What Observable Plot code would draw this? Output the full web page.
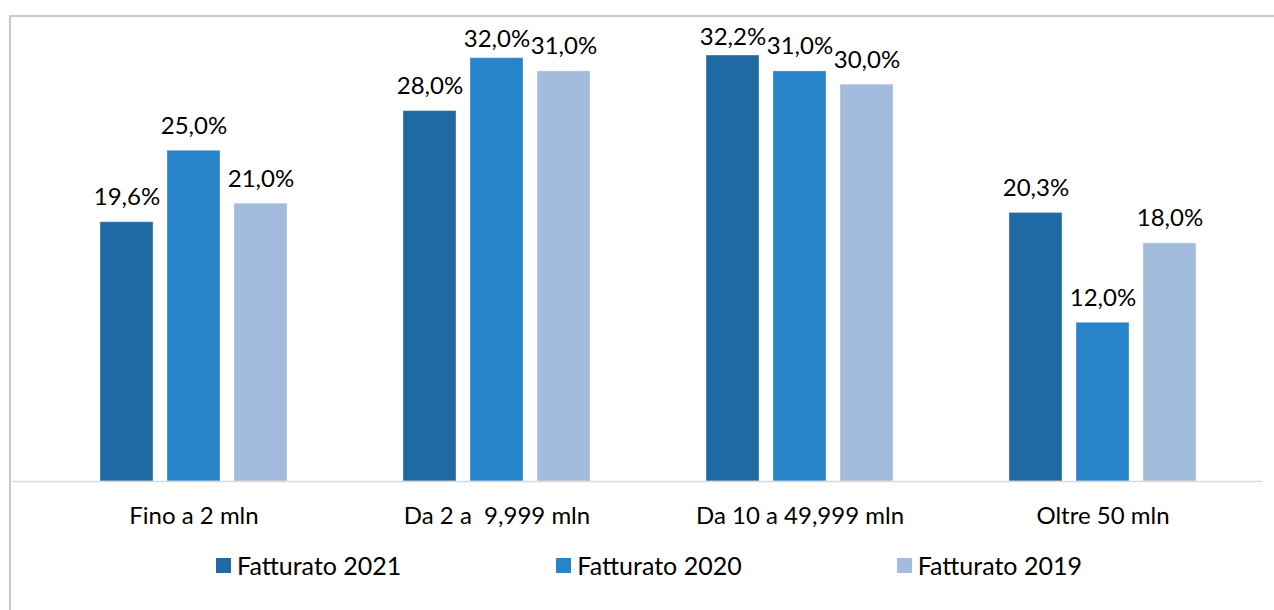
<!DOCTYPE html>
<html>
<head>
<meta charset="utf-8">
<script src="https://cdn.jsdelivr.net/npm/d3@7"></script>
<script src="https://cdn.jsdelivr.net/npm/@observablehq/plot@0.6"></script>
<style>
  html, body { margin: 0; padding: 0; background: #fff; }
  body { width: 1274px; height: 610px; position: relative; overflow: hidden; font-family: Lato, "Open Sans", sans-serif; }
  #frame { position: absolute; left: 9px; top: 15px; width: 1300px; height: 700px; border-left: 2px solid #c9c9c9; border-top: 2px solid #c9c9c9; box-sizing: border-box; }
  #chart { position: absolute; left: 0; top: 0; }
  #legend { position: absolute; left: 24px; top: 550px; width: 1250px; display: flex; justify-content: center; gap: 155px; font-size: 25px; color: #000; }
  .item { display: flex; align-items: center; }
  .sw { width: 15px; height: 15px; margin-right: 6px; }
</style>
</head>
<body>
<div id="frame"></div>
<div id="chart"></div>
<div id="legend"></div>
<script>
const categories = ["Fino a 2 mln", "Da 2 a  9,999 mln", "Da 10 a 49,999 mln", "Oltre 50 mln"];
const seriesNames = ["Fatturato 2021", "Fatturato 2020", "Fatturato 2019"];
const values2021 = [19.6, 28.0, 32.2, 20.3];
const values2020 = [25.0, 32.0, 31.0, 12.0];
const values2019 = [21.0, 31.0, 30.0, 18.0];
const colors = ["#1f6aa5", "#2884c8", "#a3bbdc"];
const offsets = [-67, 0, 67];

const seriesValues = [values2021, values2020, values2019];
const fmt = v => v.toFixed(1).replace(".", ",") + "%";

const marks = [];
seriesValues.forEach((vals, i) => {
  const data = categories.map((c, j) => ({category: c, value: vals[j]}));
  marks.push(Plot.barY(data, {
    x: "category", y: "value", fill: colors[i], dx: offsets[i],
    insetLeft: 125, insetRight: 125, stroke: "#ffffff", strokeOpacity: 0.35, strokeWidth: 1
  }));
  // labels near the top of the plot area are pushed closer to their bars
  marks.push(Plot.text(data.filter(d => d.value < 31.5), {
    x: "category", y: "value", text: d => fmt(d.value), dx: offsets[i], dy: -17,
    lineAnchor: "bottom", fontSize: 24, fill: "#000"
  }));
  marks.push(Plot.text(data.filter(d => d.value >= 31.5), {
    x: "category", y: "value", text: d => fmt(d.value), dx: offsets[i], dy: -11,
    lineAnchor: "bottom", fontSize: 24, fill: "#000"
  }));
});
marks.push(Plot.ruleY([0], {stroke: "#d9d9d9", strokeWidth: 1.5}));
marks.push(Plot.axisX({tickSize: 0, tickPadding: 25, fontSize: 24, fill: "#000", label: null}));

const chart = Plot.plot({
  width: 1274,
  height: 545,
  marginTop: 31.2,
  marginBottom: 64,
  marginLeft: 12,
  marginRight: 12,
  style: {fontFamily: "Lato, 'Open Sans', sans-serif", background: "transparent", color: "#000"},
  x: {domain: categories, paddingInner: 0, paddingOuter: 0.0605, align: 0.8, label: null},
  y: {domain: [0, 34], axis: null},
  marks
});
document.getElementById("chart").appendChild(chart);

const legend = document.getElementById("legend");
seriesNames.forEach((name, i) => {
  const item = document.createElement("div");
  item.className = "item";
  const sw = document.createElement("span");
  sw.className = "sw";
  sw.style.background = colors[i];
  const label = document.createElement("span");
  label.textContent = name;
  item.appendChild(sw);
  item.appendChild(label);
  legend.appendChild(item);
});
</script>
</body>
</html>
